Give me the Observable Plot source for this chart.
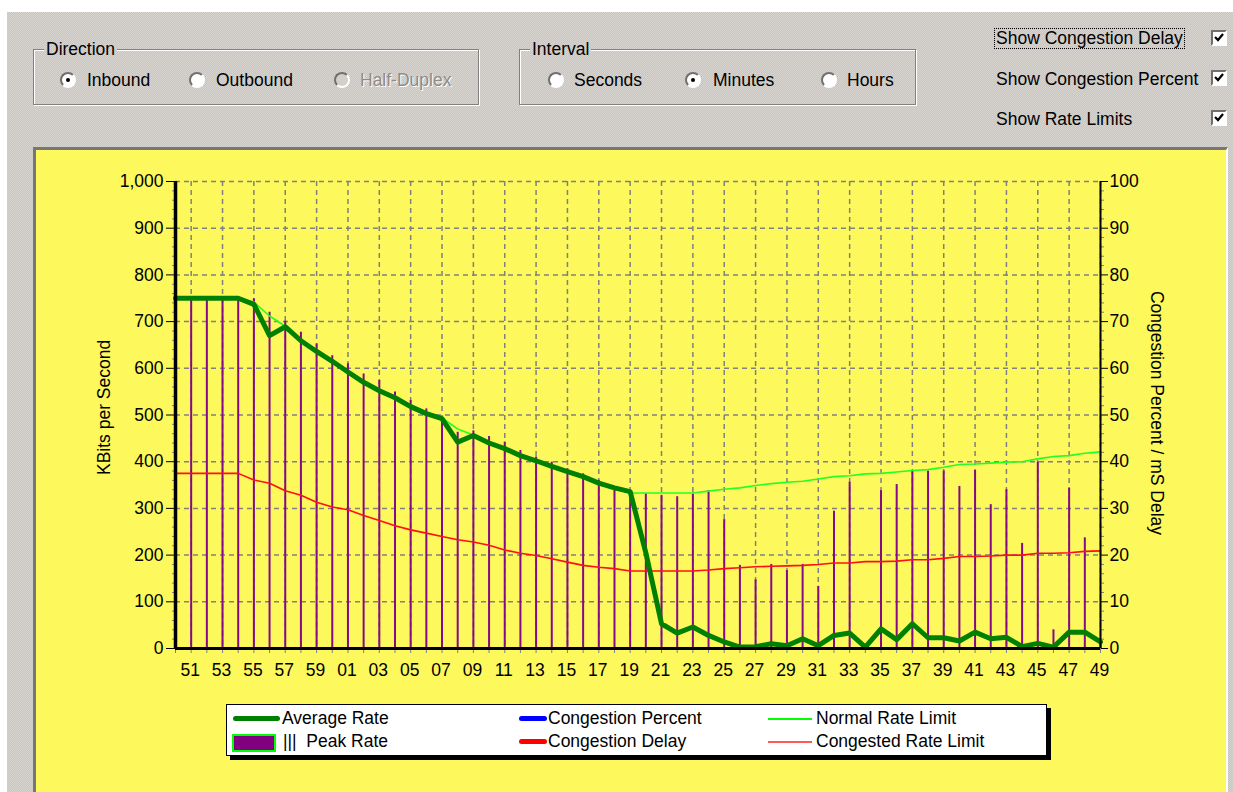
<!DOCTYPE html>
<html>
<head>
<meta charset="utf-8">
<script src="https://cdn.jsdelivr.net/npm/d3@7"></script>
<script src="https://cdn.jsdelivr.net/npm/@observablehq/plot@0.6"></script>
<style>
  html, body { margin:0; padding:0; width:1233px; height:792px; overflow:hidden; background:#fff; }
  body { position:relative; font-family:"Liberation Sans", Arial, sans-serif; font-size:17.5px; color:#000; }
  .gray { background: repeating-conic-gradient(#c8c4c1 0% 25%, #d8d4d0 0% 50%) 0 0/2px 2px; background-attachment: fixed; }
  #dialog { position:absolute; left:7px; top:12px; width:1226px; height:780px; }
  .group { position:absolute; border:1px solid #808080; box-shadow: 1px 1px 0 #fff, inset 1px 1px 0 #fff; }
  .glabel { position:absolute; padding:0 2px; height:20px; line-height:20px; white-space:nowrap; }
  .lbl { position:absolute; height:20px; line-height:20px; white-space:nowrap; }
  .radio { position:absolute; width:12px; height:12px; border-radius:50%; background:#fff;
           border:2px solid; border-color:#707070 #fff #fff #707070; }
  .radio.sel::after { content:""; position:absolute; left:4px; top:4px; width:4px; height:4px; border-radius:50%; background:#000; }
  .radio.dis { background:#d4d0c8; }
  .dis-text { color:#8c8c8c; text-shadow:1px 1px 0 #fff; }
  .check { position:absolute; width:12px; height:12px; background:#fff; border:2px solid; border-color:#707070 #fff #fff #707070; }
  #panel { position:absolute; left:33px; top:147px; width:1190px; height:660px;
           border-top:3px solid #777; border-left:3px solid #777; border-right:2px solid #fff;
           background:#fdf85c; }
  #chart { position:absolute; left:35px; top:149px; }
  .title { position:absolute; white-space:nowrap; height:20px; line-height:20px; }
  #legend { position:absolute; left:226px; top:704px; width:819px; height:50px; background:#fff; border:1px solid #000; box-shadow:4px 4px 0 #000; }
  .sw { position:absolute; }
</style>
</head>
<body>
<div id="dialog" class="gray"></div>

<!-- Direction group -->
<div class="group" style="left:33px;top:49px;width:444px;height:54px;"></div>
<div class="glabel gray" style="left:44px;top:39px;">Direction</div>
<div class="radio sel" style="left:60px;top:72px;"></div>
<div class="lbl" style="left:87px;top:70px;">Inbound</div>
<div class="radio" style="left:189px;top:72px;"></div>
<div class="lbl" style="left:216px;top:70px;">Outbound</div>
<div class="radio dis" style="left:334px;top:72px;"></div>
<div class="lbl dis-text" style="left:360px;top:70px;">Half-Duplex</div>

<!-- Interval group -->
<div class="group" style="left:519px;top:49px;width:395px;height:54px;"></div>
<div class="glabel gray" style="left:530px;top:39px;">Interval</div>
<div class="radio" style="left:548px;top:72px;"></div>
<div class="lbl" style="left:574px;top:70px;">Seconds</div>
<div class="radio sel" style="left:685px;top:72px;"></div>
<div class="lbl" style="left:713px;top:70px;">Minutes</div>
<div class="radio" style="left:821px;top:72px;"></div>
<div class="lbl" style="left:847px;top:70px;">Hours</div>

<!-- Checkboxes -->
<div class="lbl" style="left:994px;top:28px;height:19px;line-height:19px;padding:0 1px;border:1px dotted #000;">Show Congestion Delay</div>
<div class="lbl" style="left:996px;top:69px;">Show Congestion Percent</div>
<div class="lbl" style="left:996px;top:109px;">Show Rate Limits</div>
<div class="check" style="left:1211px;top:30px;"><svg width="12" height="12" style="position:absolute;left:0;top:0"><path d="M2 5 L5 8 L10 2" stroke="#000" stroke-width="2.2" fill="none"/></svg></div>
<div class="check" style="left:1211px;top:70px;"><svg width="12" height="12" style="position:absolute;left:0;top:0"><path d="M2 5 L5 8 L10 2" stroke="#000" stroke-width="2.2" fill="none"/></svg></div>
<div class="check" style="left:1211px;top:110px;"><svg width="12" height="12" style="position:absolute;left:0;top:0"><path d="M2 5 L5 8 L10 2" stroke="#000" stroke-width="2.2" fill="none"/></svg></div>

<div id="panel"></div>
<div id="chart"></div>

<div class="title" style="left:44px;top:405px;width:120px;text-align:center;transform:rotate(-90deg);">KBits per Second</div>
<div class="title" style="left:1032px;top:403px;width:250px;text-align:center;transform:rotate(90deg);">Congestion Percent / mS Delay</div>

<div id="legend"></div>
<div class="sw" style="left:233px;top:716px;width:47px;height:5px;background:#008000;border-radius:3px;"></div>
<div class="lbl" style="left:282px;top:708px;">Average Rate</div>
<div class="sw" style="left:232px;top:734px;width:40px;height:14px;background:#800080;border:2px solid #00ff00;"></div>
<div class="lbl" style="left:283px;top:731px;white-space:pre;">|||  Peak Rate</div>
<div class="sw" style="left:519px;top:716px;width:28px;height:5px;background:#0000ff;border-radius:3px;"></div>
<div class="lbl" style="left:548px;top:708px;">Congestion Percent</div>
<div class="sw" style="left:519px;top:739px;width:28px;height:5px;background:#ff0000;border-radius:3px;"></div>
<div class="lbl" style="left:548px;top:731px;">Congestion Delay</div>
<div class="sw" style="left:768px;top:718px;width:44px;height:2px;background:#00ff00;"></div>
<div class="lbl" style="left:816px;top:708px;">Normal Rate Limit</div>
<div class="sw" style="left:768px;top:741px;width:44px;height:2px;background:#ff5a5a;"></div>
<div class="lbl" style="left:816px;top:731px;">Congested Rate Limit</div>

<script>
// Minute categories (first one, "50", sits on the left axis)
const minutes = ["50","51","52","53","54","55","56","57","58","59",
  "00","01","02","03","04","05","06","07","08","09",
  "10","11","12","13","14","15","16","17","18","19",
  "20","21","22","23","24","25","26","27","28","29",
  "30","31","32","33","34","35","36","37","38","39",
  "40","41","42","43","44","45","46","47","48","49"];

// Tick labels
const xTickLabels = ["51","53","55","57","59","01","03","05","07","09","11","13","15","17","19",
  "21","23","25","27","29","31","33","35","37","39","41","43","45","47","49"];
const yTicks = [0,100,200,300,400,500,600,700,800,900,1000];

// Series (KBits per second)
const averageRate = [750,750,750,750,750,737,670,689,659,636,615,592,570,552,537,518,503,492,442,456,
  440,428,413,402,390,379,368,354,344,336,205,53,33,46,28,14,3,4,10,6,
  21,6,28,33,3,42,19,53,23,23,16,35,21,24,4,11,3,35,35,14];
const peakRate = [750,750,750,750,750,749,720,701,677,652,627,610,588,574,549,531,513,495,463,466,
  454,442,424,410,399,385,374,360,342,331,331,328,325,331,338,276,178,147,180,167,
  180,133,294,356,0,338,351,380,380,380,347,381,308,340,225,399,40,343,237,20];
const normalRateLimit = [750,750,750,750,750,742,712,690,661,638,617,594,572,555,540,521,506,494,470,457,
  442,429,414,403,391,380,369,356,345,333,333,333,333,333,337,341,344,349,353,356,
  358,363,368,370,374,375,378,381,383,388,394,395,397,399,400,406,411,413,418,421];
const congestedRateLimit = [375,375,375,375,375,361,354,338,328,313,303,297,285,274,263,254,247,240,233,228,
  221,211,204,199,192,185,178,174,171,166,166,166,166,166,168,171,173,175,176,177,
  178,180,183,183,186,186,187,190,190,193,197,197,198,200,200,204,204,205,208,209];

const rows = minutes.map((m, i) => ({
  minute: m, avg: averageRate[i], peak: peakRate[i],
  normal: normalRateLimit[i], congested: congestedRateLimit[i]
}));

const yMinor = d3.range(0, 1001, 20).filter(v => v % 100 !== 0);

const chart = Plot.plot({
  width: 1190, height: 551,
  marginLeft: 140, marginRight: 125, marginTop: 32, marginBottom: 52,
  style: { background: "transparent", fontFamily: "'Liberation Sans', Arial, sans-serif", fontSize: "17.5px", color: "#000", overflow: "visible" },
  x: { type: "point", domain: minutes, padding: 0, axis: null },
  y: { domain: [0, 1000], axis: null },
  marks: [
    Plot.gridY(yTicks.filter(v => v > 0), { stroke: "#808080", strokeOpacity: 1, strokeWidth: 1.5, strokeDasharray: "5,4" }),
    Plot.gridX(xTickLabels, { stroke: "#808080", strokeOpacity: 1, strokeWidth: 1.5, strokeDasharray: "5,4" }),
    Plot.ruleX(rows, { x: "minute", y1: 0, y2: "peak", stroke: "#850a85", strokeWidth: 2 }),
    Plot.line(rows, { x: "minute", y: "congested", stroke: "#ff1010", strokeWidth: 1.6 }),
    Plot.line(rows, { x: "minute", y: "normal", stroke: "#22ff22", strokeWidth: 1.6 }),
    Plot.line(rows, { x: "minute", y: "avg", stroke: "#008000", strokeWidth: 5, strokeLinejoin: "round", strokeLinecap: "round" }),
    // minor ticks
    Plot.axisY({ anchor: "left", ticks: yMinor, tickSize: 3, tickFormat: () => "", stroke: "#808080", label: null }),
    Plot.axisY({ anchor: "right", ticks: yMinor, tickSize: 3, tickFormat: () => "", stroke: "#808080", label: null }),
    Plot.axisX({ anchor: "bottom", ticks: minutes, tickSize: 5, tickFormat: () => "", stroke: "#808080", label: null }),
    // major axes
    Plot.axisY({ anchor: "left", ticks: yTicks, tickSize: 9, tickPadding: 3, tickFormat: d3.format(","), label: null, fontSize: 17.5 }),
    Plot.axisY({ anchor: "right", ticks: yTicks, tickSize: 7, tickPadding: 2, tickFormat: d => d / 10, label: null, fontSize: 17.5 }),
    Plot.axisX({ anchor: "bottom", ticks: xTickLabels, tickSize: 0, tickPadding: 15, label: null, fontSize: 17.5, dx: -1 }),
    // axis lines
    Plot.ruleX([minutes[0]], { stroke: "#000", strokeWidth: 3.5 }),
    Plot.ruleX([minutes[minutes.length - 1]], { stroke: "#000", strokeWidth: 2 }),
    Plot.ruleY([0], { stroke: "#000", strokeWidth: 3 })
  ]
});
document.getElementById("chart").appendChild(chart);
</script>
</body>
</html>
